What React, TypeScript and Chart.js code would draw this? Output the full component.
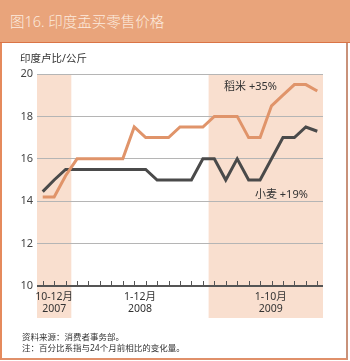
import React, { useEffect, useRef } from "react";
import { Chart, registerables } from "chart.js";

Chart.register(...registerables);

const months: string[] = [
  "2007-10", "2007-11", "2007-12",
  "2008-01", "2008-02", "2008-03", "2008-04", "2008-05", "2008-06",
  "2008-07", "2008-08", "2008-09", "2008-10", "2008-11", "2008-12",
  "2009-01", "2009-02", "2009-03", "2009-04", "2009-05", "2009-06",
  "2009-07", "2009-08", "2009-09", "2009-10",
];
const rice: number[] = [
  14.2, 14.2, 15.2, 16.0, 16.0, 16.0, 16.0, 16.0, 17.5, 17.0, 17.0, 17.0, 17.5,
  17.5, 17.5, 18.0, 18.0, 18.0, 17.0, 17.0, 18.5, 19.0, 19.5, 19.5, 19.2,
];
const wheat: number[] = [
  14.45, 15.0, 15.5, 15.5, 15.5, 15.5, 15.5, 15.5, 15.5, 15.5, 15.0, 15.0, 15.0,
  15.0, 16.0, 16.0, 15.0, 16.0, 15.0, 15.0, 16.0, 17.0, 17.0, 17.5, 17.3,
];
const periods = [
  { from: 0, to: 2, line1: "10-12月", line2: "2007", shaded: true, dx: 0 },
  { from: 3, to: 14, line1: "1-12月", line2: "2008", shaded: false, dx: 0 },
  { from: 15, to: 24, line1: "1-10月", line2: "2009", shaded: true, dx: 5 },
];
const yTicks = { min: 10, max: 20, step: 2 };
const seriesLabels = [
  { text: "稻米 +35%", index: 21, value: 19.4, dx: -6 },
  { text: "小麦 +19%", index: 23, value: 14.3, dx: 2 },
];

const FONT = "'Noto Sans', 'Noto Sans CJK SC', sans-serif";

export default function App() {
  const ref = useRef<HTMLCanvasElement | null>(null);

  useEffect(() => {
    if (!ref.current) return;
    const decor = {
      id: "decor",
      beforeDraw(chart: any) {
        const { ctx, chartArea, scales } = chart;
        const x = scales.x;
        const half = (x.getPixelForValue(1) - x.getPixelForValue(0)) / 2;
        ctx.save();
        ctx.fillStyle = "#F9DFCF";
        periods.forEach((p) => {
          if (!p.shaded) return;
          const l = x.getPixelForValue(p.from) - half;
          const r = x.getPixelForValue(p.to) + half;
          ctx.fillRect(l, chartArea.top, r - l, 318 - chartArea.top);
        });
        ctx.restore();
      },
      afterDatasetsDraw(chart: any) {
        const { ctx, chartArea, scales } = chart;
        const x = scales.x;
        const y = scales.y;
        const half = (x.getPixelForValue(1) - x.getPixelForValue(0)) / 2;
        const axisY = y.getPixelForValue(yTicks.min);
        ctx.save();
        ctx.strokeStyle = "#555";
        ctx.lineWidth = 2;
        ctx.beginPath();
        ctx.moveTo(chartArea.left, axisY);
        ctx.lineTo(chartArea.right, axisY);
        ctx.stroke();
        ctx.lineWidth = 1;
        months.forEach((_, i) => {
          const px = Math.round(x.getPixelForValue(i)) + 0.5;
          ctx.beginPath();
          ctx.moveTo(px, axisY - 5);
          ctx.lineTo(px, axisY);
          ctx.stroke();
        });
        ctx.fillStyle = "#333";
        ctx.font = `10.5px ${FONT}`;
        ctx.textAlign = "center";
        ctx.textBaseline = "middle";
        periods.forEach((p) => {
          const c =
            (x.getPixelForValue(p.from) - half + x.getPixelForValue(p.to) + half) / 2 + p.dx;
          ctx.fillText(p.line1, c, axisY + 11);
          ctx.fillText(p.line2, c, axisY + 23);
        });
        ctx.textAlign = "right";
        ctx.font = `11px ${FONT}`;
        seriesLabels.forEach((s) => {
          ctx.fillText(s.text, x.getPixelForValue(s.index) + s.dx, y.getPixelForValue(s.value));
        });
        ctx.restore();
      },
    };

    const chart = new Chart(ref.current, {
      type: "line",
      data: {
        labels: months,
        datasets: [
          {
            label: "稻米",
            data: rice,
            borderColor: "#E0946A",
            borderWidth: 3,
            pointRadius: 0,
            tension: 0,
          },
          {
            label: "小麦",
            data: wheat,
            borderColor: "#4A4A4A",
            borderWidth: 3,
            pointRadius: 0,
            tension: 0,
          },
        ],
      },
      options: {
        animation: false,
        responsive: false,
        maintainAspectRatio: false,
        layout: { padding: { left: 0, top: 74, right: 27, bottom: 67 } },
        plugins: { legend: { display: false }, tooltip: { enabled: false }, title: { display: false } },
        scales: {
          x: {
            offset: true,
            grid: { display: false, offset: true },
            border: { display: false },
            ticks: { display: false },
          },
          y: {
            min: yTicks.min,
            max: yTicks.max,
            border: { display: false },
            grid: {
              drawTicks: false,
              color: (c: any) => (c.tick && c.tick.value === yTicks.min ? "rgba(0,0,0,0)" : "#B5B5B5"),
              lineWidth: 1,
            },
            ticks: {
              stepSize: yTicks.step,
              color: "#444",
              padding: 4,
              font: { family: FONT, size: 11 },
            },
            afterFit(scale: any) {
              scale.width = 37;
            },
          },
        },
      },
      plugins: [decor],
    });
    return () => chart.destroy();
  }, []);

  return (
    <div style={{ position: "fixed", left: 0, top: 0, width: 350, height: 361, background: "#fff", fontFamily: FONT, overflow: "hidden" }}>
      <div style={{ position: "absolute", left: 0, top: 0, width: 350, height: 42, background: "#E9A47B", borderBottom: "1px solid #DA7446" }} />
      <div style={{ position: "absolute", left: 10, top: 10, fontSize: 14.5, color: "#FCEBDF", fontWeight: 300, whiteSpace: "nowrap" }}>
        图16. 印度孟买零售价格
      </div>
      <div style={{ position: "absolute", left: 0, top: 43, width: 348, height: 317, borderLeft: "2px solid #E58A5C", borderRight: "2px solid #C9927A", borderBottom: "2px solid #E0906A", boxSizing: "border-box" }} />
      <canvas ref={ref} width={350} height={361} style={{ position: "absolute", left: 0, top: 0, width: 350, height: 361 }} />
      <div style={{ position: "absolute", left: 20, top: 50, fontSize: 10.5, color: "#333", whiteSpace: "nowrap" }}>印度卢比/公斤</div>
      <div style={{ position: "absolute", left: 22, top: 331, fontSize: 8.5, lineHeight: "11px", color: "#333", whiteSpace: "nowrap" }}>
        <div>资料来源：消费者事务部。</div>
        <div>注：百分比系指与24个月前相比的变化量。</div>
      </div>
    </div>
  );
}
